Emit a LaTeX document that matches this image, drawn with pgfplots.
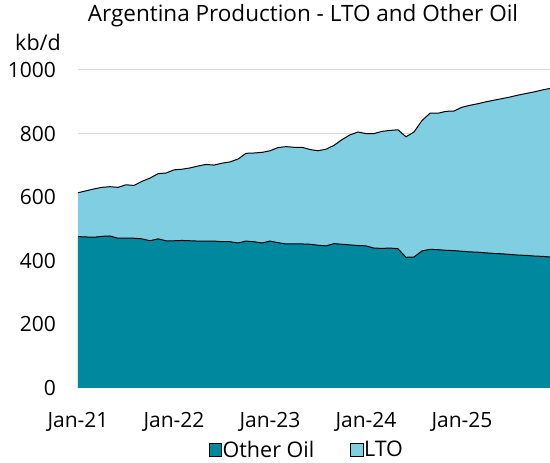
\documentclass[border=0pt]{standalone}
\usepackage{pgfplots}
\pgfplotsset{compat=1.18}
\usepackage{pgfplotstable}
\usepackage{fontspec}
\setmainfont{Open Sans}
\definecolor{otheroil}{HTML}{00889F}
\definecolor{lto}{HTML}{80CEE1}
\definecolor{gridgray}{HTML}{D9D9D9}

\pgfplotstableread{
m other lto
0 476 138
1 475 145
2 474 152
3 477 154
4 478 155
5 471 160
6 471 168
7 471 166
8 469 181
9 463 197
10 469 205
11 463 213
12 463 223
13 464 224
14 463 229
15 462 236
16 462 241
17 462 239
18 460 247
19 460 251
20 456 264
21 462 276
22 460 279
23 456 285
24 462 284
25 457 299
26 453 306
27 453 304
28 453 304
29 452 298
30 449 297
31 447 304
32 454 309
33 452 329
34 450 346
35 448 357
36 447 353
37 440 360
38 439 368
39 440 370
40 438 374
41 411 379
42 412 393
43 431 410
44 436 428
45 435 429
46 433 437
47 432 439
48 430 453
49 428 461
50 427 467
51 425 475
52 423 482
53 422 488
54 420 495
55 418 503
56 417 509
57 415 516
58 414 523
59 412 530
}\prod

\begin{document}
\fontsize{21.5pt}{25pt}\selectfont
\begin{tikzpicture}[x=1pt,y=1pt]
\begin{axis}[
  at={(0pt,0pt)}, anchor=south west,
  scale only axis, width=472pt, height=318pt,
  xmin=0, xmax=59, ymin=0, ymax=1000,
  axis x line*=bottom,
  axis y line*=left,
  x axis line style={draw=gridgray, line width=1pt, -},
  y axis line style={draw=none, -},
  ytick={0,200,...,1000},
  xtick={0,12,24,36,48},
  xticklabels={Jan-21,Jan-22,Jan-23,Jan-24,Jan-25},
  major tick length=0pt,
  ymajorgrids, grid style={draw=gridgray, line width=1pt},
  tick label style={font=\fontsize{21pt}{25pt}\selectfont, text=black},
  /pgf/number format/assume math mode=true,
  /pgf/number format/1000 sep={},
  yticklabel style={anchor=base east, inner sep=0pt, xshift=-22pt, yshift=-7.5pt},
  xticklabel style={anchor=base, inner sep=0pt, yshift=-40pt},
  clip=false,
  legend style={draw=none, fill=none, at={(0.485,-0.235)}, anchor=south,
    legend columns=2, font=\fontsize{21.5pt}{25pt}\selectfont,
    /tikz/every even column/.append style={column sep=34pt},
    inner sep=0pt, row sep=0pt, legend cell align=left},
]
\addlegendimage{legend image code/.code={\draw[black, line width=0.8pt, fill=otheroil] (0pt,-5.5pt) rectangle (12.5pt,7pt);}}
\addlegendentry{\hspace{-1.5pt}Other Oil}
\addlegendimage{legend image code/.code={\draw[black, line width=0.8pt, fill=lto] (0pt,-5.5pt) rectangle (12.5pt,7pt);}}
\addlegendentry{\hspace{-1.5pt}LTO}
\addplot[draw=none, fill=lto, forget plot] table[x=m, y expr=\thisrow{other}+\thisrow{lto}] {\prod} \closedcycle;
\addplot[draw=none, fill=otheroil, forget plot] table[x=m, y=other] {\prod} \closedcycle;
\addplot[black, line width=1pt, forget plot] table[x=m, y expr=\thisrow{other}+\thisrow{lto}] {\prod};
\addplot[black, line width=1pt, forget plot] table[x=m, y=other] {\prod};
\end{axis}
\node[anchor=base, inner sep=0pt, font=\fontsize{22.5pt}{26pt}\selectfont] at (225pt,366pt) {Argentina Production - LTO and Other Oil};
\node[anchor=base, inner sep=0pt] at (-40pt,337pt) {kb/d};
\pgfresetboundingbox
\useasboundingbox (-78pt,-75pt) rectangle (472pt,388pt);
\end{tikzpicture}
\end{document}
